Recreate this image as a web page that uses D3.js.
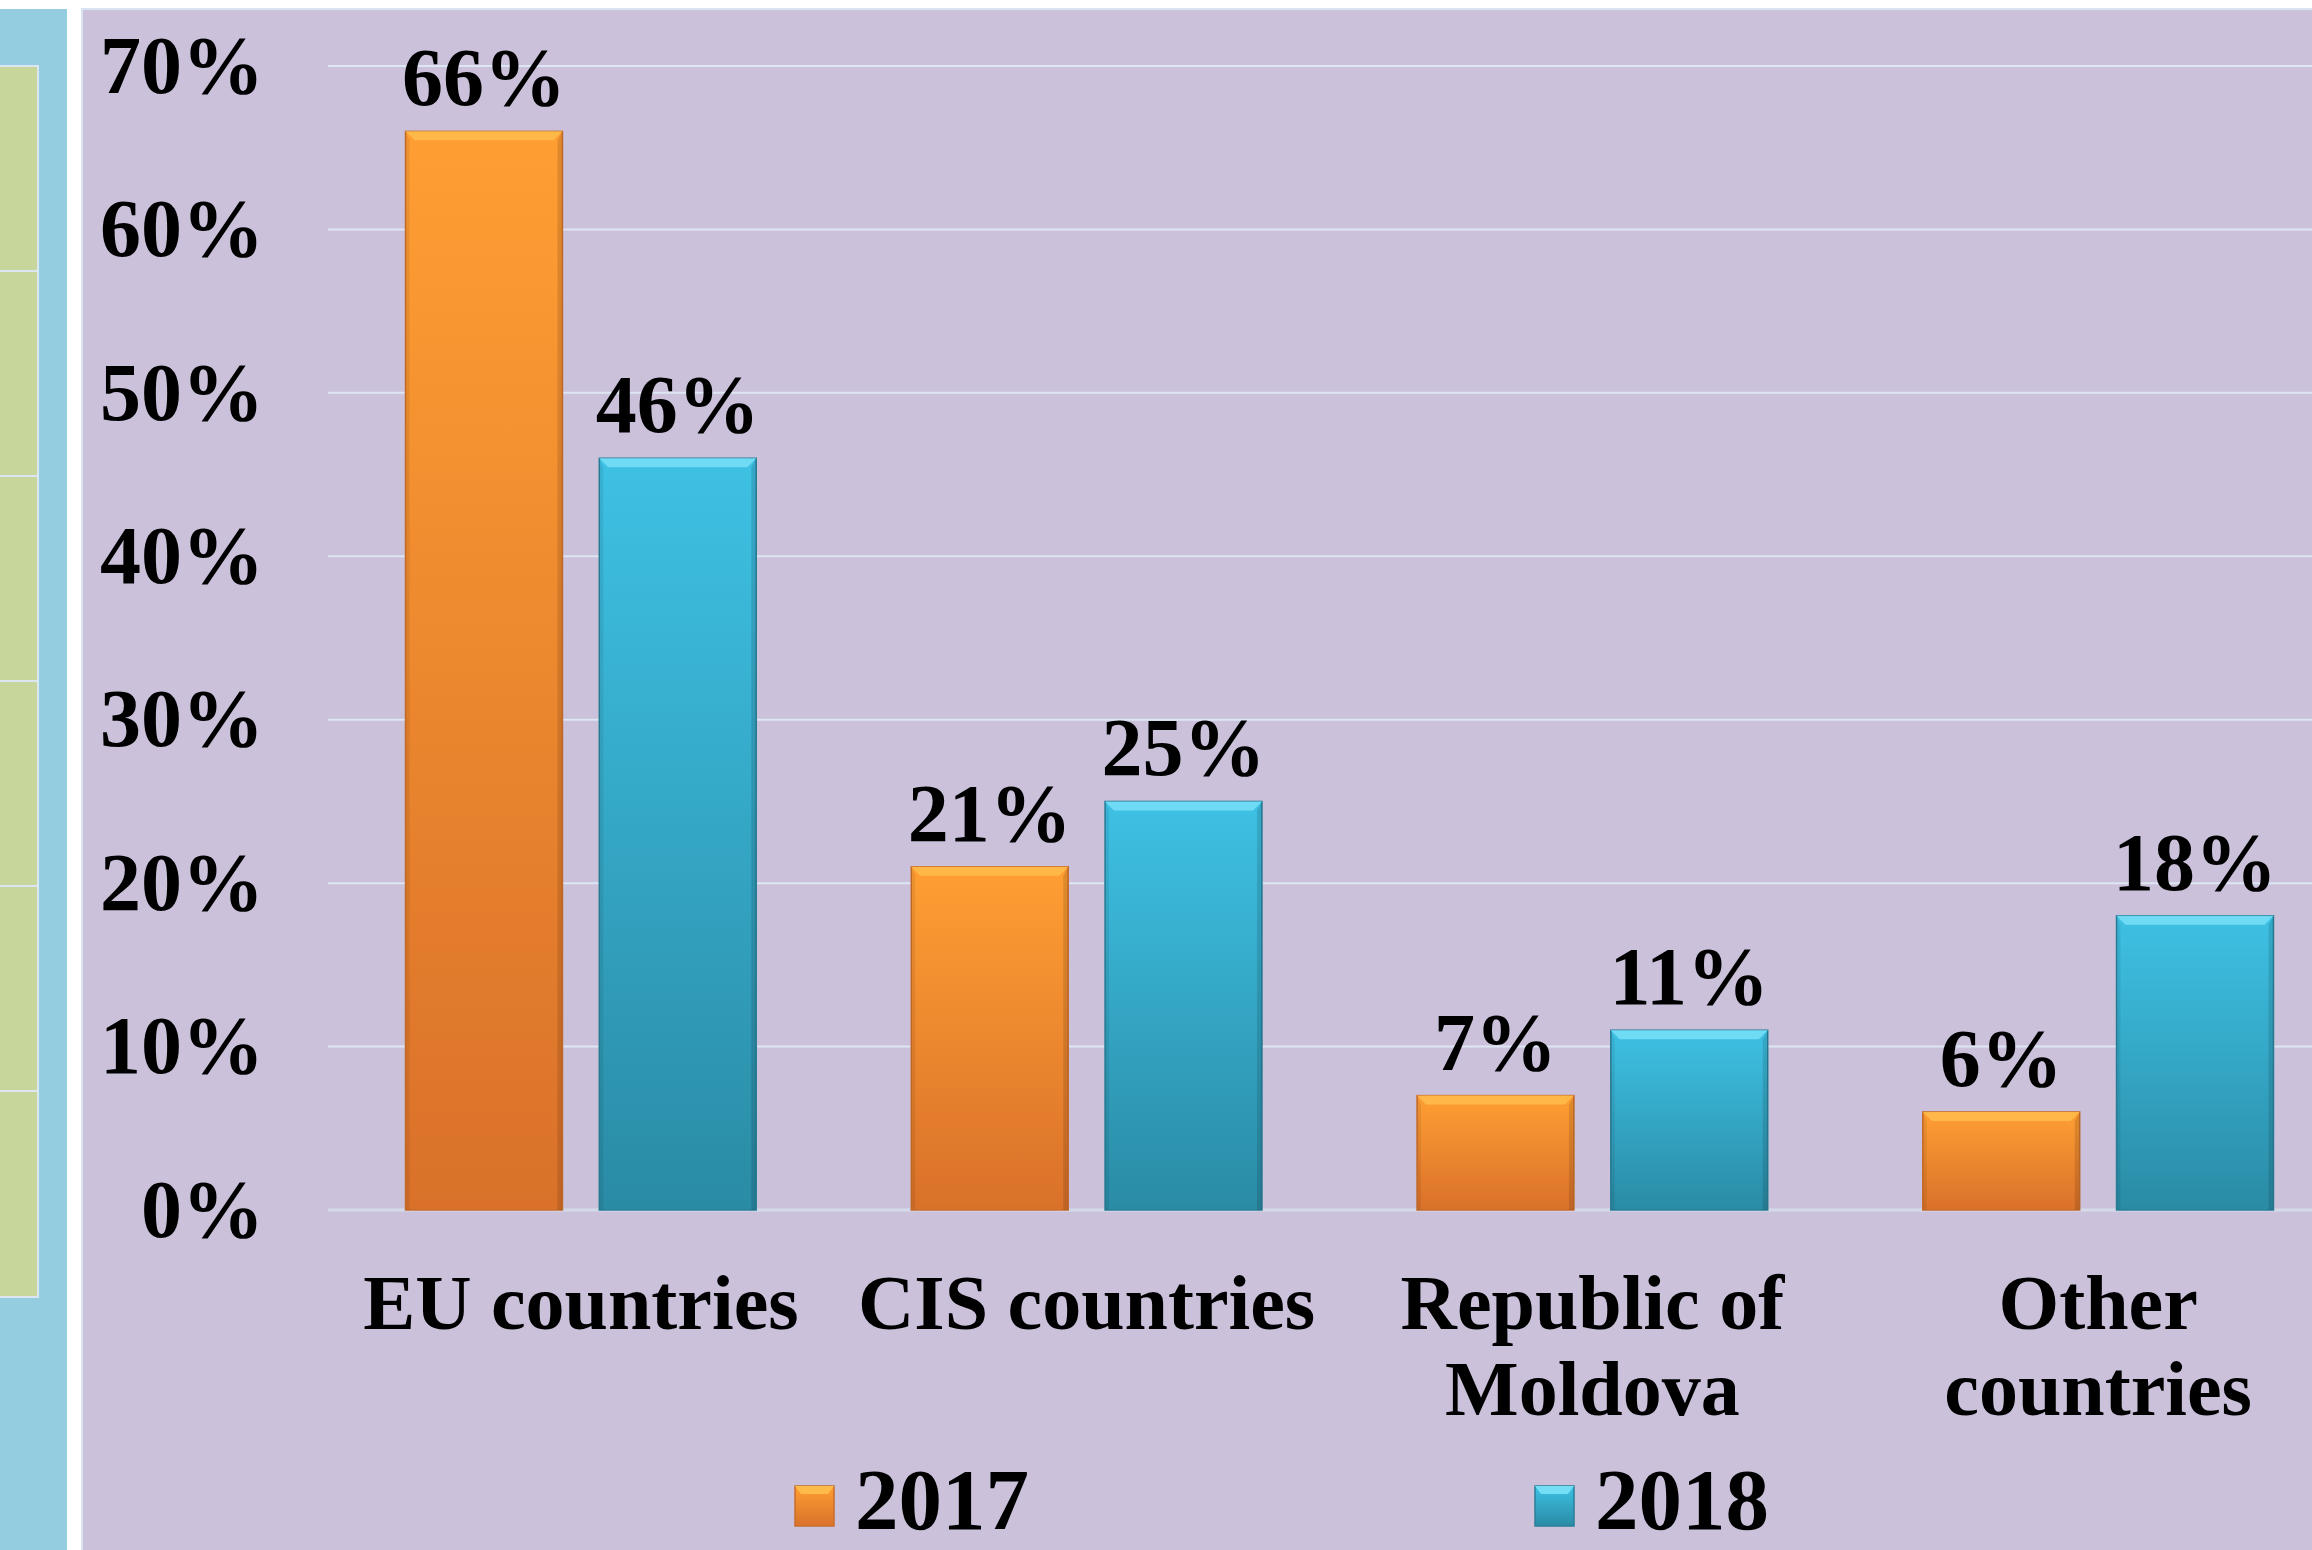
<!DOCTYPE html>
<html>
<head>
<meta charset="utf-8">
<script src="https://cdn.jsdelivr.net/npm/d3@7"></script>
<style>
  body { margin: 0; background: #fff; }
  svg { display: block; }
  text { font-family: "Liberation Serif", "DejaVu Serif", serif; font-weight: bold; fill: #000; }
</style>
</head>
<body>
<script>
// data
let categories = ["EU countries", "CIS countries", "Republic of Moldova", "Other countries"];
let categoryLines = [["EU countries"], ["CIS countries"], ["Republic of", "Moldova"], ["Other", "countries"]];
let series = ["2017", "2018"];
let values2017 = [0.66, 0.21, 0.07, 0.06];
let values2018 = [0.46, 0.25, 0.11, 0.18];
let yTicks = [0, 0.1, 0.2, 0.3, 0.4, 0.5, 0.6, 0.7];

let width = 2312,
    height = 1550;

let svg = d3.select("body").append("svg")
  .attr("width", width)
  .attr("height", height);

// background panels (slide decoration)
svg.append("rect").attr("x", 0).attr("y", 0).attr("width", width).attr("height", height).attr("fill", "#ffffff");
svg.append("rect").attr("x", 0).attr("y", 9).attr("width", 67).attr("height", height).attr("fill", "#94cddf");
svg.append("rect").attr("x", -2).attr("y", 66).attr("width", 40).attr("height", 1231)
  .attr("fill", "#c7d79c").attr("stroke", "#dce6f2").attr("stroke-width", 2);
[271, 476, 681, 886, 1091].forEach(function(y){
  svg.append("line").attr("x1", 0).attr("x2", 37).attr("y1", y).attr("y2", y)
    .attr("stroke", "#dce6f2").attr("stroke-width", 2);
});
svg.append("rect").attr("x", 82).attr("y", 9).attr("width", width).attr("height", height)
  .attr("fill", "#cbc1db").attr("stroke", "#d9e3f1").attr("stroke-width", 2);

// gradients
let defs = svg.append("defs");
let colours = {
  "2017": {top: "#ff9e33", bottom: "#d9712a", bevel: "#ffbb4a", edge: "#c86e2c"},
  "2018": {top: "#3ec1e4", bottom: "#2a8ba5", bevel: "#74def6", edge: "#2a7f98"}
};
series.forEach(function(s){
  let g = defs.append("linearGradient").attr("id", "grad" + s)
    .attr("x1", 0).attr("y1", 0).attr("x2", 0).attr("y2", 1);
  g.append("stop").attr("offset", "0%").attr("stop-color", colours[s].top);
  g.append("stop").attr("offset", "100%").attr("stop-color", colours[s].bottom);
});

// scales
let y = d3.scaleLinear().domain([0, 0.7]).range([1210, 66]);
let x0 = d3.scaleBand().domain(categories).range([328, 2351]).padding(0);
let x1 = d3.scaleBand().domain(series).range([0, x0.bandwidth()]).paddingInner(0.19).paddingOuter(0.4);

// gridlines
svg.append("g").selectAll("line")
  .data(yTicks)
  .enter().append("line")
  .attr("x1", 328).attr("x2", width)
  .attr("y1", function(d){ return y(d); })
  .attr("y2", function(d){ return y(d); })
  .attr("stroke", function(d){ return d == 0 ? "#d3dbe9" : "#dde6f3"; })
  .attr("stroke-width", function(d){ return d == 0 ? 3 : 2; });

// y axis labels
let yAxis = svg.append("g")
  .attr("transform", "translate(328,0)")
  .call(d3.axisLeft(y).tickValues(yTicks).tickFormat(d3.format(".0%")).tickSize(0).tickPadding(64));
yAxis.select(".domain").remove();
yAxis.selectAll("text")
  .style("font-family", "Liberation Serif")
  .style("font-weight", "bold")
  .style("font-size", "82px")
  .attr("fill", "#000");

// bars
let rows = [];
categories.forEach(function(c, i){
  rows.push({cat: c, s: "2017", v: values2017[i]});
  rows.push({cat: c, s: "2018", v: values2018[i]});
});

let bar = svg.append("g").selectAll("g")
  .data(rows)
  .enter().append("g")
  .attr("transform", function(d){ return "translate(" + (x0(d.cat) + x1(d.s)) + ",0)"; });

let bw = x1.bandwidth();
bar.append("rect")
  .attr("x", 0)
  .attr("y", function(d){ return y(d.v); })
  .attr("width", bw)
  .attr("height", function(d){ return y(0) - y(d.v); })
  .attr("fill", function(d){ return "url(#grad" + d.s + ")"; })
  .attr("stroke", function(d){ return colours[d.s].edge; })
  .attr("stroke-width", 1.5);

// top bevel
bar.append("path")
  .attr("d", function(d){
    let t = y(d.v);
    return "M0," + t + "L" + bw + "," + t + "L" + (bw - 9) + "," + (t + 9) + "L9," + (t + 9) + "Z";
  })
  .attr("fill", function(d){ return colours[d.s].bevel; })
  .attr("opacity", 0.9);
// side shading
bar.append("path")
  .attr("d", function(d){
    let t = y(d.v), b = y(0);
    return "M" + bw + "," + t + "L" + bw + "," + b + "L" + (bw - 5) + "," + b + "L" + (bw - 5) + "," + (t + 9) + "Z";
  })
  .attr("fill", "#000").attr("opacity", 0.12);
bar.append("path")
  .attr("d", function(d){
    let t = y(d.v), b = y(0);
    return "M0," + t + "L0," + b + "L4," + b + "L4," + (t + 9) + "Z";
  })
  .attr("fill", "#000").attr("opacity", 0.07);

// value labels
bar.append("text")
  .attr("x", bw / 2)
  .attr("y", function(d){ return y(d.v) - 26; })
  .attr("text-anchor", "middle")
  .style("font-size", "82px")
  .text(function(d){ return d3.format(".0%")(d.v); });

// category labels
let catLabel = svg.append("g").selectAll("text")
  .data(categories)
  .enter().append("text")
  .attr("text-anchor", "middle")
  .style("font-size", "78px")
  .attr("x", function(d){ return x0(d) + x0.bandwidth() / 2; })
  .attr("y", 1329);
catLabel.selectAll("tspan")
  .data(function(d, i){ return categoryLines[i]; })
  .enter().append("tspan")
  .attr("x", function(){ let p = d3.select(this.parentNode).datum(); return x0(p) + x0.bandwidth() / 2; })
  .attr("dy", function(d, i){ return i == 0 ? 0 : 86; })
  .text(function(d){ return d; });

// legend
let lx = d3.scalePoint().domain(series).range([795, 1535]);
let legend = svg.append("g").selectAll("g")
  .data(series)
  .enter().append("g")
  .attr("transform", function(d){ return "translate(" + lx(d) + ",1486)"; });
legend.append("rect")
  .attr("width", 39).attr("height", 40)
  .attr("fill", function(d){ return "url(#grad" + d + ")"; })
  .attr("stroke", function(d){ return colours[d].edge; })
  .attr("stroke-width", 1.5);
legend.append("path")
  .attr("d", "M0,0L39,0L33,8L6,8Z")
  .attr("fill", function(d){ return colours[d].bevel; });
legend.append("text")
  .attr("x", 60)
  .attr("y", 43)
  .style("font-size", "87px")
  .text(function(d){ return d; });
</script>
</body>
</html>
